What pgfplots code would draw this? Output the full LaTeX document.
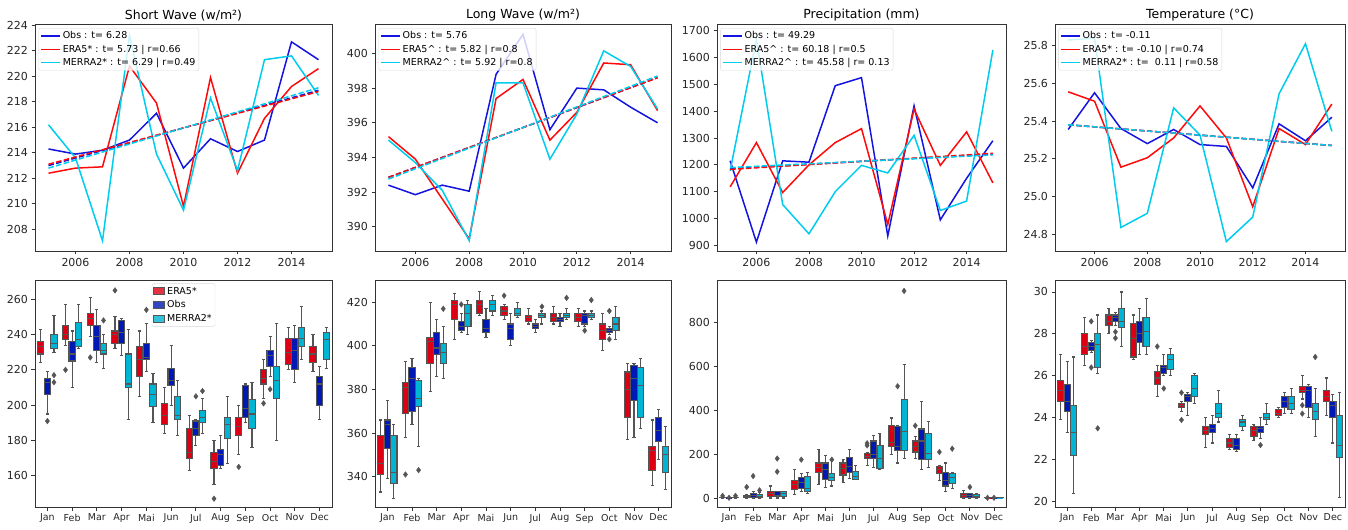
\documentclass[border=0pt]{standalone}
\usepackage{fontspec}
\setmainfont{DejaVu Sans}
\usepackage{pgfplots}
\pgfplotsset{compat=1.18}
\usepgfplotslibrary{statistics}

\definecolor{cObs}{HTML}{1414E0}
\definecolor{cEra}{HTML}{FF0A0A}
\definecolor{cMer}{HTML}{00CCEE}
\definecolor{bEra}{HTML}{DD0014}
\definecolor{bObs}{HTML}{0018B4}
\definecolor{bMer}{HTML}{00B4D4}
\definecolor{bedge}{HTML}{555555}
\definecolor{frame}{HTML}{333333}

\pgfplotsset{
  panel/.style={scale only axis, height=227bp,
    axis line style={frame, line width=0.9bp},
    tick style={frame, line width=0.9bp},
    tick align=outside, tick pos=left, major tick length=3.5bp,
    yticklabel style={font=\fontsize{11bp}{13bp}\selectfont, text=black!85},
    /pgf/number format/assume math mode=true,
    /pgf/number format/1000 sep={}},
  trend/.style={panel, xmin=2004.5, xmax=2015.5, xtick={2006,2008,...,2014},
    xticklabel style={font=\fontsize{11bp}{13bp}\selectfont, text=black!85},
    title style={font=\fontsize{12.5bp}{14bp}\selectfont, yshift=-7bp},
    legend cell align=left,
    legend style={at={(0.012,0.982)}, anchor=north west, draw=black!15,
      rounded corners=2bp, fill=white, fill opacity=0.8, text opacity=1,
      font=\fontsize{9.5bp}{11bp}\selectfont, inner sep=1.5bp, row sep=0.5bp},
    legend image code/.code={\draw[sharp corners, line width=1.5bp, ##1] (0bp,0bp) -- (19bp,0bp);}},
  mon/.style={panel, xmin=-0.5, xmax=11.5, xtick={0,...,11},
    xticklabels={Jan,Feb,Mar,Apr,Mai,Jun,Jul,Aug,Sep,Oct,Nov,Dec},
    xticklabel style={font=\fontsize{9.5bp}{11bp}\selectfont, text=black!85}},
  sol/.style={forget plot, line width=1.5bp, mark=none},
  dsh/.style={forget plot, line width=1.5bp, mark=none, dash pattern=on 5.5bp off 2.4bp},
  bx/.style={forget plot, draw=bedge, line width=1.1bp, mark=none,
    boxplot/draw direction=y,
    boxplot/box extend=0.25, boxplot/whisker extend=0.125},
  outl/.style={forget plot, only marks, mark=diamond*, mark size=2.8bp,
    mark options={draw=bedge, fill=bedge}},
  patch/.style={legend image code/.code={\draw[sharp corners, line width=0.8bp, ##1] (0bp,-3.5bp) rectangle (11bp,3.5bp);}},
}

% one box per dataset, shifted within the month slot
\newcommand\bE[6]{\addplot[bx, fill=bEra, boxplot prepared={draw position={#1-0.267},
  lower whisker=#2, lower quartile=#3, median=#4, upper quartile=#5, upper whisker=#6}] coordinates {};}
\newcommand\bO[6]{\addplot[bx, fill=bObs, boxplot prepared={draw position={#1},
  lower whisker=#2, lower quartile=#3, median=#4, upper quartile=#5, upper whisker=#6}] coordinates {};}
\newcommand\bM[6]{\addplot[bx, fill=bMer, boxplot prepared={draw position={#1+0.267},
  lower whisker=#2, lower quartile=#3, median=#4, upper quartile=#5, upper whisker=#6}] coordinates {};}

\begin{document}
\begin{tikzpicture}
\useasboundingbox (0,0) rectangle (1348bp,530bp);

% ---------------- annual series ----------------
\begin{axis}[trend, at={(35bp,279bp)}, anchor=south west, width=297bp,
  ymin=206.3, ymax=224.1, ytick={208,210,...,224}, title={Short Wave (w/m²)}]
\addlegendimage{draw=cObs}\addlegendentry{Obs : t= 6.28}
\addlegendimage{draw=cEra}\addlegendentry{ERA5* : t= 5.73 | r=0.66}
\addlegendimage{draw=cMer}\addlegendentry{MERRA2* : t= 6.29 | r=0.49}
\addplot[sol, cObs] coordinates {(2005,214.3)(2006,213.9)(2007,214.2)(2008,215.0)(2009,217.1)(2010,212.8)(2011,215.1)(2012,214.1)(2013,215.0)(2014,222.7)(2015,221.3)};
\addplot[sol, cEra] coordinates {(2005,212.4)(2006,212.8)(2007,212.9)(2008,220.8)(2009,217.9)(2010,209.8)(2011,219.9)(2012,212.4)(2013,216.7)(2014,219.2)(2015,220.6)};
\addplot[sol, cMer] coordinates {(2005,216.2)(2006,213.6)(2007,207.1)(2008,223.2)(2009,213.9)(2010,209.5)(2011,218.3)(2012,212.6)(2013,221.3)(2014,221.6)(2015,218.5)};
\addplot[dsh, cObs] coordinates {(2005,213.0)(2015,218.9)};
\addplot[dsh, cEra] coordinates {(2005,213.1)(2015,218.8)};
\addplot[dsh, cMer] coordinates {(2005,212.8)(2015,219.1)};
\end{axis}

\begin{axis}[trend, at={(375bp,279bp)}, anchor=south west, width=296bp,
  ymin=388.6, ymax=401.7, ytick={390,392,...,400}, title={Long Wave (w/m²)}]
\addlegendimage{draw=cObs}\addlegendentry{Obs : t= 5.76}
\addlegendimage{draw=cEra}\addlegendentry{ERA5\textasciicircum{} : t= 5.82 | r=0.8}
\addlegendimage{draw=cMer}\addlegendentry{MERRA2\textasciicircum{} : t= 5.92 | r=0.8}
\addplot[sol, cObs] coordinates {(2005,392.4)(2006,391.85)(2007,392.4)(2008,392.05)(2009,398.8)(2010,401.1)(2011,395.6)(2012,398.0)(2013,397.9)(2014,396.9)(2015,396.0)};
\addplot[sol, cEra] coordinates {(2005,395.2)(2006,393.9)(2007,391.6)(2008,389.3)(2009,397.4)(2010,398.5)(2011,395.0)(2012,396.6)(2013,399.45)(2014,399.35)(2015,396.7)};
\addplot[sol, cMer] coordinates {(2005,395.0)(2006,393.7)(2007,392.1)(2008,389.2)(2009,398.3)(2010,398.3)(2011,393.9)(2012,396.5)(2013,400.15)(2014,399.25)(2015,396.8)};
\addplot[dsh, cObs] coordinates {(2005,392.85)(2015,398.6)};
\addplot[dsh, cEra] coordinates {(2005,392.85)(2015,398.6)};
\addplot[dsh, cMer] coordinates {(2005,392.75)(2015,398.7)};
\end{axis}

\begin{axis}[trend, at={(717bp,279bp)}, anchor=south west, width=289bp,
  ymin=879, ymax=1725, ytick={900,1000,...,1700}, title={Precipitation (mm)}]
\addlegendimage{draw=cObs}\addlegendentry{Obs : t= 49.29}
\addlegendimage{draw=cEra}\addlegendentry{ERA5\textasciicircum{} : t= 60.18 | r=0.5}
\addlegendimage{draw=cMer}\addlegendentry{MERRA2\textasciicircum{} : t= 45.58 | r= 0.13}
\addplot[sol, cObs] coordinates {(2005,1215)(2006,912)(2007,1215)(2008,1210)(2009,1495)(2010,1525)(2011,935)(2012,1420)(2013,995)(2014,1150)(2015,1290)};
\addplot[sol, cEra] coordinates {(2005,1118)(2006,1283)(2007,1097)(2008,1200)(2009,1283)(2010,1335)(2011,978)(2012,1408)(2013,1198)(2014,1323)(2015,1133)};
\addplot[sol, cMer] coordinates {(2005,1178)(2006,1668)(2007,1052)(2008,943)(2009,1100)(2010,1198)(2011,1170)(2012,1310)(2013,1030)(2014,1065)(2015,1628)};
\addplot[dsh, cObs] coordinates {(2005,1186)(2015,1240)};
\addplot[dsh, cEra] coordinates {(2005,1183)(2015,1243)};
\addplot[dsh, cMer] coordinates {(2005,1190)(2015,1237)};
\end{axis}

\begin{axis}[trend, at={(1055bp,279bp)}, anchor=south west, width=290bp,
  ymin=24.71, ymax=25.915, ytick={24.8,25.0,...,25.8},
  yticklabel style={/pgf/number format/.cd, fixed, fixed zerofill, precision=1},
  title={Temperature (°C)}]
\addlegendimage{draw=cObs}\addlegendentry{Obs : t= -0.11}
\addlegendimage{draw=cEra}\addlegendentry{ERA5* : t= -0.10 | r=0.74}
\addlegendimage{draw=cMer}\addlegendentry{MERRA2* : t=\ \ 0.11 | r=0.58}
\addplot[sol, cObs] coordinates {(2005,25.355)(2006,25.55)(2007,25.36)(2008,25.28)(2009,25.355)(2010,25.275)(2011,25.265)(2012,25.045)(2013,25.385)(2014,25.295)(2015,25.42)};
\addplot[sol, cEra] coordinates {(2005,25.555)(2006,25.505)(2007,25.155)(2008,25.205)(2009,25.31)(2010,25.48)(2011,25.31)(2012,24.945)(2013,25.36)(2014,25.275)(2015,25.49)};
\addplot[sol, cMer] coordinates {(2005,25.83)(2006,25.84)(2007,24.835)(2008,24.91)(2009,25.47)(2010,25.325)(2011,24.76)(2012,24.89)(2013,25.545)(2014,25.81)(2015,25.345)};
\addplot[dsh, cObs] coordinates {(2005,25.38)(2015,25.27)};
\addplot[dsh, cEra] coordinates {(2005,25.38)(2015,25.27)};
\addplot[dsh, cMer] coordinates {(2005,25.38)(2015,25.27)};
\end{axis}

% ---------------- monthly distributions ----------------
\begin{axis}[mon, at={(35bp,23bp)}, anchor=south west, width=297bp,
  ymin=142.3, ymax=270.9, ytick={160,180,...,260},
  legend cell align=left, patch,
  legend style={at={(0.5,0.985)}, anchor=north, draw=black!15, rounded corners=2bp,
    fill=white, fill opacity=0.8, text opacity=1,
    font=\fontsize{9.5bp}{11bp}\selectfont, inner sep=1.5bp, row sep=1bp}]
\addlegendimage{fill=bEra, draw=bedge}\addlegendentry{ERA5*}
\addlegendimage{fill=bObs, draw=bedge}\addlegendentry{Obs}
\addlegendimage{fill=bMer, draw=bedge}\addlegendentry{MERRA2*}
\bE{0}{224}{229}{233}{236}{243}
\bO{0}{195}{206}{213}{215}{219}
\bM{0}{230}{232}{235}{240}{251}
\bE{1}{234}{237}{240}{245}{257}
\bO{1}{210}{225}{229}{236}{242}
\bM{1}{232}{233}{237}{247}{257}
\bE{2}{239}{245}{249}{252}{261}
\bO{2}{224}{231}{239}{245}{254}
\bM{2}{221}{229}{231}{235}{240}
\bE{3}{232}{235}{240}{242}{250}
\bO{3}{228}{235}{241}{248}{249}
\bM{3}{192}{210}{212}{229}{243}
\bE{4}{205}{216}{226}{233}{242}
\bO{4}{219}{226}{227}{235}{246}
\bM{4}{190}{199}{206}{212}{218}
\bE{5}{184}{189}{194}{201}{210}
\bO{5}{200}{211}{214}{221}{234}
\bM{5}{183}{192}{194}{205}{214}
\bE{6}{163}{170}{173}{187}{194}
\bO{6}{177}{183}{187}{191}{192}
\bM{6}{184}{190}{193}{197}{204}
\bE{7}{155}{164}{168}{173}{180}
\bO{7}{164}{166}{172}{175}{183}
\bM{7}{167}{181}{189}{193}{205}
\bE{8}{172}{183}{188}{193}{200}
\bO{8}{190}{193}{198}{211}{212}
\bM{8}{176}{187}{195}{203}{213}
\bE{9}{204}{212}{215}{220}{226}
\bO{9}{216}{222}{228}{231}{239}
\bM{9}{180}{204}{214}{222}{246}
\bE{10}{220}{223}{230}{238}{244}
\bO{10}{213}{220}{231}{238}{245}
\bM{10}{226}{233}{238}{244}{256}
\bE{11}{219}{224}{229}{233}{240}
\bO{11}{192}{200}{212}{216}{222}
\bM{11}{221}{226}{237}{241}{244}
% outliers
\addplot[outl] coordinates {(0,191)(0.267,213)(0.267,217)(0.733,220)(1.733,227)(2.267,248)
  (2.733,265)(4,254)(6,205)(6.267,208)(6.733,147)(7.733,165)(8.733,201)(9,209)};
\end{axis}

\begin{axis}[mon, at={(375bp,23bp)}, anchor=south west, width=296bp,
  ymin=326.1, ymax=430.2, ytick={340,360,...,420}]
\bE{0}{333}{341}{346}{359}{366}
\bO{0}{339}{353}{364}{366}{375}
\bM{0}{330}{337}{342}{359}{364}
\bE{1}{358}{369}{381}{383}{393}
\bO{1}{364}{370}{385}{390}{394}
\bM{1}{354}{372}{376}{384}{385}
\bE{2}{379}{392}{402}{404}{420}
\bO{2}{386}{396}{399}{406}{412}
\bM{2}{385}{392}{397}{401}{409}
\bE{3}{403}{412}{419}{421}{424}
\bO{3}{406}{407}{409}{411}{415}
\bM{3}{405}{409}{415}{419}{421}
\bE{4}{414}{415}{419}{421}{425}
\bO{4}{404}{406}{408}{412}{417}
\bM{4}{414}{416}{419}{421}{423}
\bE{5}{412}{414}{416}{418}{419}
\bO{5}{400}{403}{408}{410}{415}
\bM{5}{413}{414}{415}{417}{420}
\bE{6}{410}{411}{413}{414}{417}
\bO{6}{406}{408}{409}{410}{412}
\bM{6}{410}{413}{414}{415}{416}
\bE{7}{410}{411}{413}{415}{418}
\bO{7}{409}{411}{412}{413}{415}
\bM{7}{412}{413}{414}{415}{417}
\bE{8}{409}{411}{413}{415}{417}
\bO{8}{409}{410}{414}{415}{416}
\bM{8}{412}{413}{414}{415}{416}
\bE{9}{398}{403}{407}{410}{415}
\bO{9}{405}{406}{407}{408}{409}
\bM{9}{403}{407}{410}{413}{418}
\bE{10}{357}{367}{380}{388}{392}
\bO{10}{358}{375}{385}{391}{392}
\bM{10}{362}{367}{382}{390}{394}
\bE{11}{336}{343}{352}{354}{366}
\bO{11}{348}{356}{361}{367}{371}
\bM{11}{334}{342}{350}{354}{363}
% outliers
\addplot[outl] coordinates {(0.733,341)(1.267,343)(2.267,417)(3,419)(4.733,423)(6.267,418)
  (7.267,422)(8,407)(8.267,421)(9,403)(9,416)};
\end{axis}

\begin{axis}[mon, at={(717bp,23bp)}, anchor=south west, width=289bp,
  ymin=-41, ymax=995, ytick={0,200,...,800}]
\bE{0}{0}{1}{2}{3}{5}
\bO{0}{0}{0.5}{1}{1.5}{2}
\bM{0}{0}{1}{2}{3}{5}
\bE{1}{0}{3}{8}{12}{15}
\bO{1}{0}{4}{12}{20}{30}
\bM{1}{0}{2}{6}{15}{25}
\bE{2}{0}{5}{20}{30}{55}
\bO{2}{0}{5}{10}{29}{31}
\bM{2}{0}{5}{20}{29}{31}
\bE{3}{18}{40}{60}{80}{132}
\bO{3}{28}{45}{70}{95}{110}
\bM{3}{20}{30}{45}{100}{115}
\bE{4}{60}{115}{140}{160}{220}
\bO{4}{50}{85}{130}{160}{195}
\bM{4}{55}{80}{95}{110}{170}
\bE{5}{70}{105}{135}{160}{175}
\bO{5}{90}{115}{145}{185}{220}
\bM{5}{84}{86}{100}{120}{150}
\bE{6}{150}{180}{190}{204}{206}
\bO{6}{140}{180}{200}{260}{285}
\bM{6}{130}{135}{180}{240}{295}
\bE{7}{200}{235}{255}{330}{365}
\bO{7}{160}{215}{235}{328}{331}
\bM{7}{180}{215}{305}{450}{610}
\bE{8}{180}{210}{235}{260}{280}
\bO{8}{130}{175}{260}{315}{440}
\bM{8}{140}{175}{205}{295}{350}
\bE{9}{80}{110}{130}{144}{146}
\bO{9}{30}{55}{80}{115}{160}
\bM{9}{45}{65}{95}{110}{115}
\bE{10}{0}{2}{10}{20}{35}
\bO{10}{0}{2}{10}{19}{20}
\bM{10}{0}{2}{8}{15}{20}
\bE{11}{0}{0.5}{1}{1.5}{2}
\bO{11}{0}{0.5}{1}{1.5}{2}
\bM{11}{0}{0.5}{1}{1.5}{2}
% outliers
\addplot[outl] coordinates {(-0.267,10)(0,1)(0.267,10)(0.733,50)(1,100)(1.267,35)
  (2,120)(2,180)(3,175)(4.267,175)(5.733,240)(5.733,250)(7,510)(7.267,945)
  (7.733,330)(8.733,210)(9.267,225)(10,50)(10.733,1)(11,1)};
\end{axis}

\begin{axis}[mon, at={(1055bp,23bp)}, anchor=south west, width=290bp,
  ymin=19.75, ymax=30.57, ytick={20,22,...,30}]
\bE{0}{23.9}{24.8}{25.3}{25.8}{27.0}
\bO{0}{23.3}{24.3}{24.8}{25.6}{26.7}
\bM{0}{20.4}{22.2}{23.3}{24.6}{26.9}
\bE{1}{26.5}{27.0}{27.4}{28.0}{28.8}
\bO{1}{27.1}{27.2}{27.4}{27.6}{27.7}
\bM{1}{26.1}{26.4}{27.5}{28.0}{28.9}
\bE{2}{28.0}{28.4}{28.6}{28.9}{29.2}
\bO{2}{28.4}{28.6}{28.8}{28.9}{29.0}
\bM{2}{27.4}{28.3}{28.6}{29.2}{30.0}
\bE{3}{26.8}{26.9}{27.8}{28.5}{28.9}
\bO{3}{27.0}{27.6}{28.0}{28.6}{29.2}
\bM{3}{27.0}{27.4}{28.1}{28.8}{29.7}
\bE{4}{25.0}{25.6}{25.9}{26.2}{26.5}
\bO{4}{26.0}{26.1}{26.4}{26.5}{27.0}
\bM{4}{26.0}{26.3}{26.8}{27.0}{27.3}
\bE{5}{24.3}{24.5}{24.6}{24.7}{24.8}
\bO{5}{24.1}{24.8}{25.0}{25.1}{25.2}
\bM{5}{24.7}{25.0}{25.4}{26.0}{26.1}
\bE{6}{22.6}{23.2}{23.4}{23.6}{24.0}
\bO{6}{22.8}{23.3}{23.5}{23.7}{24.1}
\bM{6}{23.8}{24.0}{24.2}{24.7}{25.3}
\bE{7}{22.5}{22.6}{22.8}{23.0}{23.2}
\bO{7}{22.4}{22.5}{22.7}{23.0}{23.2}
\bM{7}{23.4}{23.6}{23.8}{23.9}{24.1}
\bE{8}{22.9}{23.1}{23.4}{23.6}{23.7}
\bO{8}{23.0}{23.3}{23.5}{23.6}{24.0}
\bM{8}{23.7}{23.9}{24.0}{24.2}{24.7}
\bE{9}{24.0}{24.1}{24.2}{24.4}{24.5}
\bO{9}{24.2}{24.5}{24.8}{25.0}{25.2}
\bM{9}{24.2}{24.4}{24.7}{25.0}{25.4}
\bE{10}{24.9}{25.2}{25.3}{25.5}{26.0}
\bO{10}{24.0}{24.5}{25.3}{25.5}{25.6}
\bM{10}{23.1}{23.9}{24.3}{24.7}{25.4}
\bE{11}{24.1}{24.8}{25.0}{25.3}{25.9}
\bO{11}{22.8}{24.0}{24.6}{24.8}{25.1}
\bM{11}{20.2}{22.1}{22.7}{24.1}{25.2}
% outliers
\addplot[outl] coordinates {(1,28.6)(1,26.4)(1.267,23.5)(2,28.1)(2,27.8)(3.733,27.4)
  (4,25.4)(4.733,25.2)(4.733,23.9)(8,22.7)(9.733,24.6)(9.733,24.2)(10.267,26.9)};
\end{axis}
\end{tikzpicture}
\end{document}
